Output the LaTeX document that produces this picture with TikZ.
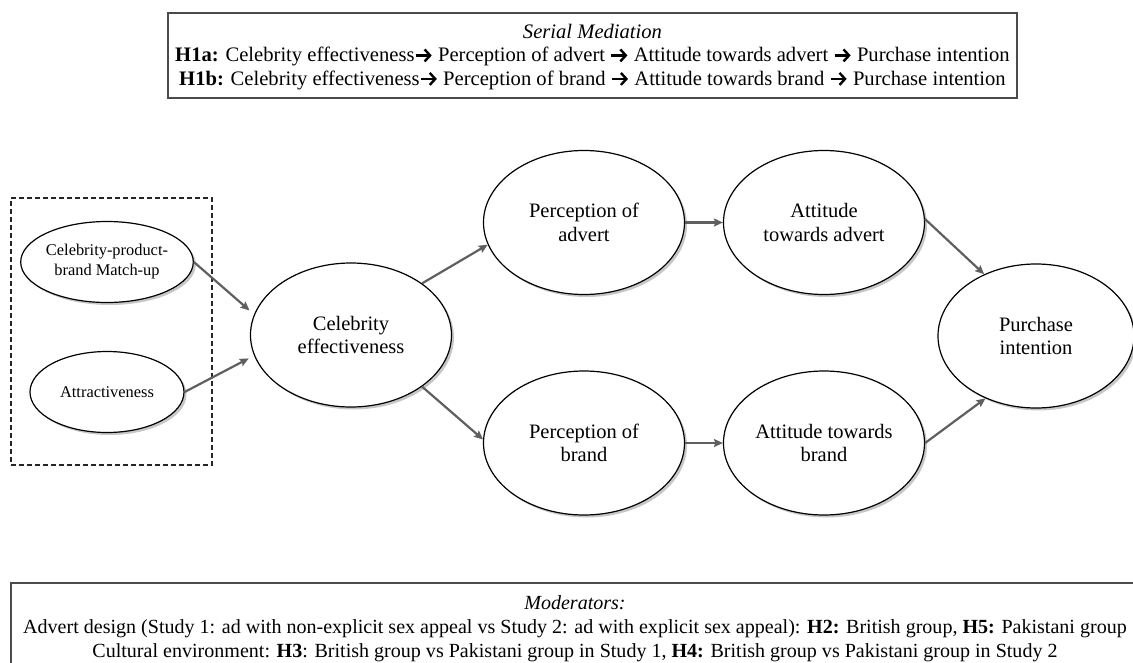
\documentclass[tikz,border=0pt]{standalone}
\usepackage{fontspec}
\setmainfont{Liberation Serif}
\usetikzlibrary{shapes.geometric,arrows.meta,shadows}
\definecolor{arrgray}{RGB}{95,95,95}
\definecolor{boxgray}{RGB}{75,75,75}
\newcommand{\myarr}{\tikz[baseline={(0pt,-6.5pt)}]\draw[line width=2.4pt, black, -{Straight Barb[length=5.5pt,width=12pt,line width=2.4pt]}] (0pt,0pt) -- (16pt,0pt);}
\tikzset{
  ell/.style={ellipse, draw=black, line width=1.2pt, fill=white, inner sep=0pt, align=center,
    drop shadow={shadow xshift=2.5pt, shadow yshift=-2.5pt, opacity=0.22, fill=black}},
  bigell/.style={ell, minimum width=201pt, minimum height=144pt, font=\fontsize{20.5}{23.5}\selectfont},
  smallell/.style={ell, minimum width=154pt, minimum height=81pt, font=\fontsize{16.4}{20}\selectfont},
  conn/.style={draw=arrgray, line width=2.2pt, -{Stealth[length=9pt,width=8pt,inset=1.5pt]}},
  infobox/.style={draw=boxgray, line width=1.4pt, inner sep=0pt},
  dashbox/.style={draw=black!85, line width=1.1pt, dash pattern=on 5pt off 3pt, inner sep=0pt}
}
\begin{document}
\begin{tikzpicture}[x=1pt,y=-1pt]
\useasboundingbox (0,0) rectangle (1133,662);
\clip (0,0) rectangle (1133,662);
% top hypothesis box
\node[infobox, minimum width=849pt, minimum height=85pt] (hyp) at (592.5,55.5) {};
\node[align=center, font=\fontsize{20.6}{23.5}\selectfont, inner sep=0pt] (hyptext) at (592.5,57) {%
\textit{Serial Mediation}\\
\textbf{H1a:} Celebrity effectiveness\myarr{} Perception of advert \myarr{} Attitude towards advert \myarr{} Purchase intention\\
\textbf{H1b:} Celebrity effectiveness\myarr{} Perception of brand \myarr{} Attitude towards brand \myarr{} Purchase intention};
% dashed group
\node[dashbox, minimum width=201pt, minimum height=267pt] (grp) at (111.5,331.5) {};
% ellipses
\node[smallell] (mu) at (107,262) {Celebrity-product-\\brand Match-up};
\node[smallell] (att) at (107,392) {Attractiveness};
\node[bigell] (ce) at (351,335) {Celebrity\\effectiveness};
\node[bigell] (pa) at (584,222.5) {Perception of\\advert};
\node[bigell] (pb) at (584,443) {Perception of\\brand};
\node[bigell] (aa) at (824,222.5) {Attitude\\towards advert};
\node[bigell] (ab) at (824,443) {Attitude towards\\brand};
\node[bigell, minimum width=196pt] (pi) at (1036,336) {Purchase\\intention};
% connectors
\draw[conn, shorten >=6pt] (mu.east) -- (ce.168);
\draw[conn, shorten >=6pt] (att.east) -- (ce.192);
\draw[conn] (ce.36) -- (pa.193);
\draw[conn] (ce.324) -- (pb.178);
\draw[conn] (pa.east) -- (aa.west);
\draw[conn] (pb.east) -- (ab.west);
\draw[conn] (aa.2) -- (pi.130);
\draw[conn] (ab.0) -- (pi.231);
% moderators box
\node[infobox, minimum width=1139pt, minimum height=110pt] (mod) at (580.5,638) {};
\node[align=center, font=\fontsize{20.05}{24}\selectfont, inner sep=0pt] (modtext) at (575,629) {%
\textit{Moderators:}\\
Advert design (Study 1: ad with non-explicit sex appeal vs Study 2: ad with explicit sex appeal): \textbf{H2:} British group, \textbf{H5:} Pakistani group\\
Cultural environment: \textbf{H3}: British group vs Pakistani group in Study 1, \textbf{H4:} British group vs Pakistani group in Study 2};
\end{tikzpicture}
\end{document}
